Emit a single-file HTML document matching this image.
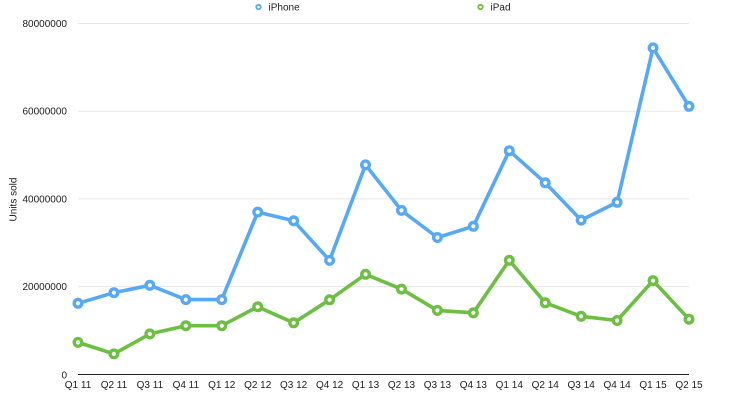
<!DOCTYPE html>
<html><head><meta charset="utf-8"><style>
html,body{margin:0;padding:0;background:#fff;}
svg{display:block;}
text{font-family:"Liberation Sans",Arial,sans-serif;fill:#222;}
</style></head><body>
<svg width="740" height="409" viewBox="0 0 740 409" xmlns="http://www.w3.org/2000/svg">
<g stroke="#e8e8e8" stroke-width="1">
<line x1="78" y1="23.5" x2="689" y2="23.5"/>
<line x1="78" y1="111.2" x2="689" y2="111.2"/>
<line x1="78" y1="198.9" x2="689" y2="198.9"/>
<line x1="78" y1="286.6" x2="689" y2="286.6"/>
</g>
<line x1="78" y1="374.5" x2="689" y2="374.5" stroke="#222" stroke-width="1"/>
<g font-size="10" text-anchor="end">
<text x="67" y="27">80000000</text>
<text x="67" y="114.7">60000000</text>
<text x="67" y="202.4">40000000</text>
<text x="67" y="290.1">20000000</text>
<text x="67" y="378.5">0</text>
</g>
<text font-size="10" transform="translate(16.5,199.5) rotate(-90)" text-anchor="middle">Units sold</text>
<g font-size="10" text-anchor="middle">
<text x="78" y="388">Q1 11</text>
<text x="113.94" y="388">Q2 11</text>
<text x="149.88" y="388">Q3 11</text>
<text x="185.82" y="388">Q4 11</text>
<text x="221.76" y="388">Q1 12</text>
<text x="257.7" y="388">Q2 12</text>
<text x="293.64" y="388">Q3 12</text>
<text x="329.58" y="388">Q4 12</text>
<text x="365.52" y="388">Q1 13</text>
<text x="401.46" y="388">Q2 13</text>
<text x="437.4" y="388">Q3 13</text>
<text x="473.34" y="388">Q4 13</text>
<text x="509.28" y="388">Q1 14</text>
<text x="545.22" y="388">Q2 14</text>
<text x="581.16" y="388">Q3 14</text>
<text x="617.1" y="388">Q4 14</text>
<text x="653.04" y="388">Q1 15</text>
<text x="688.98" y="388">Q2 15</text>
</g>
<!-- legend -->
<circle cx="258.5" cy="7" r="2.2" fill="#fff" stroke="#58a9f4" stroke-width="1.8"/>
<text x="268.5" y="10.5" font-size="10">iPhone</text>
<circle cx="480.5" cy="7" r="2.2" fill="#fff" stroke="#6dbf44" stroke-width="1.8"/>
<text x="490.5" y="10.5" font-size="10">iPad</text>
<!-- iPhone -->
<polyline fill="none" stroke="#58a9f4" stroke-width="3.6" stroke-linejoin="round" points="78,303.3 113.94,292.7 149.88,285.3 185.82,299.6 221.76,299.6 257.7,212.1 293.64,220.8 329.58,260.4 365.52,164.9 401.46,210.4 437.4,237.5 473.34,226.3 509.28,150.7 545.22,182.8 581.16,220.1 617.1,202.3 653.04,47.9 688.98,106.3"/>
<g fill="#fff" stroke="#58a9f4" stroke-width="3.4">
<circle cx="78" cy="303.3" r="3.8"/><circle cx="113.94" cy="292.7" r="3.8"/><circle cx="149.88" cy="285.3" r="3.8"/><circle cx="185.82" cy="299.6" r="3.8"/><circle cx="221.76" cy="299.6" r="3.8"/><circle cx="257.7" cy="212.1" r="3.8"/><circle cx="293.64" cy="220.8" r="3.8"/><circle cx="329.58" cy="260.4" r="3.8"/><circle cx="365.52" cy="164.9" r="3.8"/><circle cx="401.46" cy="210.4" r="3.8"/><circle cx="437.4" cy="237.5" r="3.8"/><circle cx="473.34" cy="226.3" r="3.8"/><circle cx="509.28" cy="150.7" r="3.8"/><circle cx="545.22" cy="182.8" r="3.8"/><circle cx="581.16" cy="220.1" r="3.8"/><circle cx="617.1" cy="202.3" r="3.8"/><circle cx="653.04" cy="47.9" r="3.8"/><circle cx="688.98" cy="106.3" r="3.8"/>
</g>
<!-- iPad -->
<polyline fill="none" stroke="#6dbf44" stroke-width="3.6" stroke-linejoin="round" points="78,342.4 113.94,353.9 149.88,333.9 185.82,325.7 221.76,325.7 257.7,306.8 293.64,322.8 329.58,299.8 365.52,274.3 401.46,289.1 437.4,310.4 473.34,312.8 509.28,260.3 545.22,302.8 581.16,316.3 617.1,320.5 653.04,280.6 688.98,319.2"/>
<g fill="#fff" stroke="#6dbf44" stroke-width="3.4">
<circle cx="78" cy="342.4" r="3.8"/><circle cx="113.94" cy="353.9" r="3.8"/><circle cx="149.88" cy="333.9" r="3.8"/><circle cx="185.82" cy="325.7" r="3.8"/><circle cx="221.76" cy="325.7" r="3.8"/><circle cx="257.7" cy="306.8" r="3.8"/><circle cx="293.64" cy="322.8" r="3.8"/><circle cx="329.58" cy="299.8" r="3.8"/><circle cx="365.52" cy="274.3" r="3.8"/><circle cx="401.46" cy="289.1" r="3.8"/><circle cx="437.4" cy="310.4" r="3.8"/><circle cx="473.34" cy="312.8" r="3.8"/><circle cx="509.28" cy="260.3" r="3.8"/><circle cx="545.22" cy="302.8" r="3.8"/><circle cx="581.16" cy="316.3" r="3.8"/><circle cx="617.1" cy="320.5" r="3.8"/><circle cx="653.04" cy="280.6" r="3.8"/><circle cx="688.98" cy="319.2" r="3.8"/>
</g>
</svg>
</body></html>
